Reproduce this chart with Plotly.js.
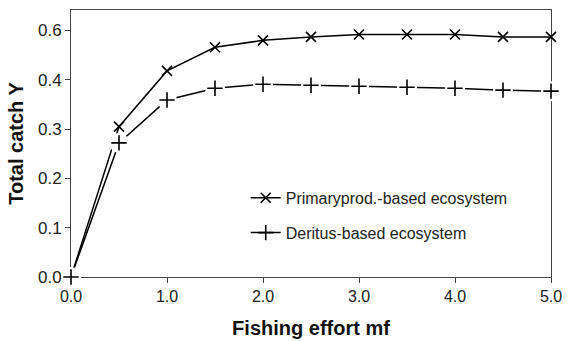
<!DOCTYPE html>
<html>
<head>
<meta charset="utf-8">
<script src="https://cdn.plot.ly/plotly-3.0.1.min.js"></script>
<style>html,body{margin:0;padding:0;background:#fff;}#chart{width:568px;height:341px;}</style>
</head>
<body>
<div id="chart"></div>
<script>
// Fishing effort (x) and total catch (y, in axis units; the reference labels its top tick "0.6")
var effort = [0, 0.5, 1.0, 1.5, 2.0, 2.5, 3.0, 3.5, 4.0, 4.5, 5.0];
var primaryCatch = [0, 0.305, 0.418, 0.466, 0.480, 0.487, 0.492, 0.492, 0.492, 0.487, 0.487];
var detritusCatch = [0, 0.272, 0.359, 0.383, 0.391, 0.389, 0.387, 0.385, 0.383, 0.379, 0.377];
var xTickVals = [0, 1, 2, 3, 4, 5];
var xTickText = ["0.0", "1.0", "2.0", "3.0", "4.0", "5.0"];
var yTickVals = [0, 0.1, 0.2, 0.3, 0.4, 0.5];
var yTickText = ["0.0", "0.1", "0.2", "0.3", "0.4", "0.6"];
var nameA = "Primaryprod.-based ecosystem";
var nameB = "Deritus-based ecosystem";

var font = "Liberation Sans, Arial, Helvetica, sans-serif";
var yRange = [0, 0.5416];

var traces = [
  // primary-production series on the base subplot
  {x: effort, y: primaryCatch, type: "scatter", mode: "lines+markers", name: nameA, legendgroup: "a",
   line: {color: "#000", width: 1.5},
   marker: {symbol: "x-thin-open", size: 10, color: "#000", line: {color: "#000", width: 1.6}},
   cliponaxis: false},
  // detritus line on the base subplot
  {x: effort, y: detritusCatch, type: "scatter", mode: "lines", line: {color: "#000", width: 1.5},
   showlegend: false, cliponaxis: false, hoverinfo: "skip"},
  // white knock-out discs on an overlaid subplot (gaps around the + markers)
  {x: effort, y: detritusCatch, yaxis: "y2", type: "scatter", mode: "markers",
   marker: {symbol: "circle", size: 20, color: "#ffffff", line: {width: 0, color: "#ffffff"}},
   showlegend: false, cliponaxis: false, hoverinfo: "skip"},
  {x: effort, y: detritusCatch, yaxis: "y2", type: "scatter", mode: "markers", name: nameB, legendgroup: "b",
   marker: {symbol: "cross-thin-open", size: 11, color: "#000", line: {color: "#000", width: 1.6}},
   cliponaxis: false, showlegend: false},
  {x: [null], y: [null], yaxis: "y2", type: "scatter", mode: "lines+markers", name: nameB, legendgroup: "b",
   line: {color: "#000", width: 1.5},
   marker: {symbol: "cross-thin-open", size: 11, color: "#000", line: {color: "#000", width: 1.6}}}
];

var layout = {
  width: 568, height: 341,
  margin: {l: 71, r: 17, t: 10, b: 64},
  paper_bgcolor: "#fff", plot_bgcolor: "#fff",
  font: {family: font, color: "#222", size: 16},
  showlegend: true,
  legend: {x: 0.364, y: 0.36, xanchor: "left", yanchor: "top", bgcolor: "rgba(0,0,0,0)",
           font: {family: font, size: 16, color: "#222"}, tracegroupgap: 11, traceorder: "grouped"},
  xaxis: {range: [0, 5], tickvals: xTickVals, ticktext: xTickText, showgrid: false, zeroline: false,
          showline: true, linecolor: "#444", linewidth: 1, mirror: true, ticks: "outside", ticklen: 5,
          tickcolor: "#444", layer: "below traces",
          tickfont: {family: font, size: 16, color: "#222"},
          title: {text: "<b>Fishing effort mf</b>", font: {family: font, size: 20, color: "#111"}, standoff: 16}},
  yaxis: {range: yRange, tickvals: yTickVals, ticktext: yTickText, showgrid: false, zeroline: false,
          showline: true, linecolor: "#444", linewidth: 1, mirror: true, ticks: "outside", ticklen: 5,
          tickcolor: "#444", layer: "below traces",
          tickfont: {family: font, size: 17, color: "#222"},
          title: {text: "<b>Total catch Y</b>", font: {family: font, size: 20, color: "#111"}, standoff: 8}},
  yaxis2: {range: yRange, overlaying: "y", visible: false, showgrid: false, zeroline: false}
};

Plotly.newPlot("chart", traces, layout, {displayModeBar: false, staticPlot: true});
</script>
</body>
</html>
